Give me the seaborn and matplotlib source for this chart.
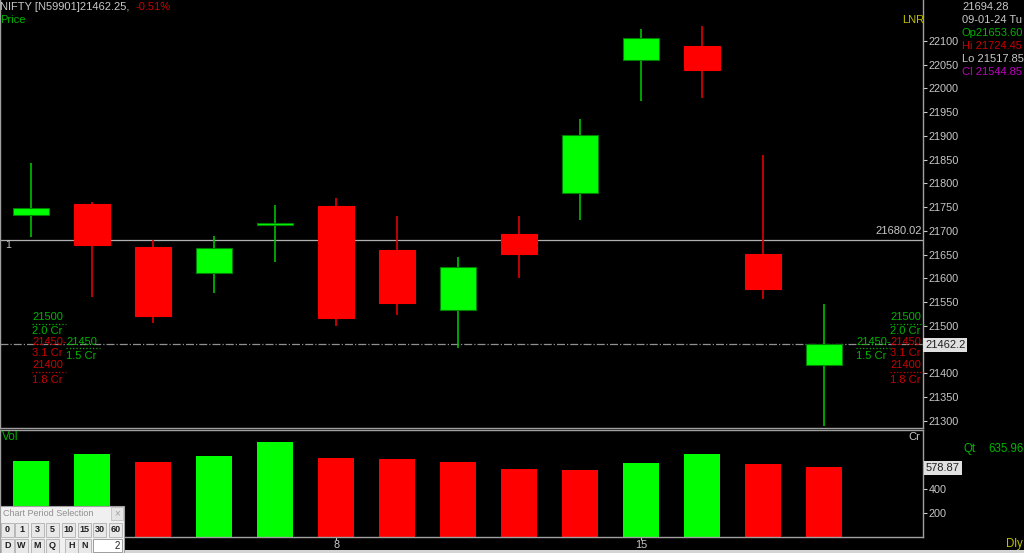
import numpy as np
import pandas as pd
import matplotlib
matplotlib.use("Agg")
import matplotlib.pyplot as plt
import seaborn as sns
from matplotlib.patches import Rectangle
from matplotlib.lines import Line2D

# daily candles (NIFTY, Dec-23 / Jan-24)
opens = [21734, 21757, 21666, 21612, 21713, 21753, 21660, 21534, 21694, 21780, 22060, 22089, 21652, 21418]
closes = [21748, 21670, 21521, 21664, 21717, 21517, 21548, 21624, 21652, 21902, 22106, 22039, 21578, 21462.25]
highs = [21843, 21760, 21681, 21689, 21755, 21769, 21732, 21645, 21732, 21936, 22125, 22132, 21860, 21546]
lows = [21687, 21561, 21506, 21569, 21635, 21500, 21523, 21454, 21601, 21723, 21974, 21980, 21557, 21289]
volumes = [633, 692, 625, 675, 792, 658, 650, 625, 567, 558, 617, 692, 608, 578.87]
vol_dir = ["up", "up", "down", "up", "up", "down", "down", "down", "down", "down", "up", "up", "down", "down"]
date_ticks = [5, 10]
date_labels = ["8", "15"]
price_ticks = list(range(21300, 22101, 50))
vol_ticks = [200, 400]
ref_level = 21680.02
last_price = 21462.25

W, H = 1024, 553
GREEN = "#00ff00"
RED = "#ff0000"
DGREEN = "#00b400"
DRED = "#c80000"
GRAY = "#c8c8c8"

sns.set_style("dark", rc={"axes.facecolor": "black", "figure.facecolor": "black"})
plt.rcParams["font.family"] = ["Liberation Sans", "DejaVu Sans"]

fig = plt.figure(figsize=(W / 100, H / 100), dpi=100)


def fx(x):
    return x / W


def fy(y):
    return 1 - y / H


def ftext(x, y, s, color, size=8, ha="left", **kw):
    fig.text(fx(x), fy(y), s, color=color, fontsize=size, ha=ha, va="center", **kw)


def fline(x0, x1, y, color, ls=":", lw=0.9):
    fig.add_artist(Line2D([fx(x0), fx(x1)], [fy(y), fy(y)], color=color, ls=ls, lw=lw,
                          transform=fig.transFigure))


ax = fig.add_axes([0, fy(428), fx(923), 428 / H])
axv = fig.add_axes([0, fy(537), fx(923), (537 - 430) / H])

df = pd.DataFrame({"i": np.arange(len(opens)), "open": opens, "close": closes,
                   "high": highs, "low": lows, "vol": volumes, "dir": vol_dir})
df["up"] = df["close"] >= df["open"]

# candles
for _, r in df.iterrows():
    col = GREEN if r["up"] else RED
    wick = "#00c000" if r["up"] else "#e00000"
    ax.vlines(r["i"], r["low"], r["high"], color=wick, lw=1.2, zorder=1)
    bottom = min(r["open"], r["close"])
    h = max(abs(r["close"] - r["open"]), 3)
    ax.bar(r["i"], h, bottom=bottom, width=0.6, color=col,
           edgecolor="#008000" if r["up"] else RED, lw=0.8, zorder=2)

ax.set_xlim(-0.51, 14.62)
ax.set_ylim(21285, 22186)
ax.axhline(ref_level, color="#b0b0b0", lw=0.9, zorder=0)
ax.axhline(last_price, color="#909090", lw=0.9, ls="-.", zorder=0)
ax.yaxis.tick_right()
ax.set_yticks(price_ticks)
ax.set_yticklabels([str(t) if t != 21450 else "" for t in price_ticks])
ax.tick_params(axis="y", colors=GRAY, labelsize=7.8, length=3, width=0.8, pad=1, direction="out", right=True)
ax.set_xticks([])
for s in ax.spines.values():
    s.set_color("#a0a0a0")
    s.set_linewidth(1)
ax.spines["top"].set_visible(False)

# volume
sns.barplot(data=df, x="i", y="vol", hue="dir", palette={"up": GREEN, "down": RED},
            width=0.6, dodge=False, legend=False, saturation=1, linewidth=0,
            edgecolor="none", ax=axv, zorder=2)
axv.set_xlim(-0.51, 14.62)
axv.set_ylim(0, 890)
axv.yaxis.tick_right()
axv.set_yticks(vol_ticks)
axv.set_yticklabels([str(t) for t in vol_ticks])
axv.set_xticks(date_ticks)
axv.set_xticklabels(date_labels)
axv.tick_params(axis="y", colors=GRAY, labelsize=7.8, length=3, width=0.8, pad=1, right=True)
axv.tick_params(axis="x", colors=GRAY, labelsize=7.8, length=2, pad=0, bottom=True)
axv.set_xlabel("")
axv.set_ylabel("")
for s in axv.spines.values():
    s.set_color("#a0a0a0")
    s.set_linewidth(1)

# header texts
ftext(0, 7, "NIFTY [N59901]21462.25,", GRAY, 8)
ftext(135, 7, "-0.51%", DRED, 8)
ftext(0, 20, "Price", DGREEN, 8)
ftext(5, 245, "1", GRAY, 7.5)
ftext(922, 231, "21680.02", GRAY, 8, ha="right")
ftext(902, 20, "LNR", "#c0c000", 8)

ftext(962, 7, "21694.28", GRAY, 8)
ftext(962, 20, "09-01-24 Tu", GRAY, 8)
ftext(962, 33, "Op21653.60", DGREEN, 8)
ftext(962, 46, "Hi 21724.45", DRED, 8)
ftext(962, 59, "Lo 21517.85", GRAY, 8)
ftext(962, 72, "Cl 21544.85", "#c000c0", 8)

ftext(2, 437, "Vol", DGREEN, 8.5)
ftext(920, 437, "Cr", GRAY, 8, ha="right")
ftext(963, 449, "Qt", DGREEN, 8.3)
ftext(988, 449, "635.96", DGREEN, 8.3)
ftext(1006, 544, "Dly", "#c0c000", 8.3)

# price / volume boxes on the axis
ftext(925, 345, "21462.2", "#202020", 8,
      bbox=dict(boxstyle="square,pad=0.15", fc="#e0e0e0", ec="none"))
ftext(926, 468, "578.87", "#202020", 8,
      bbox=dict(boxstyle="square,pad=0.15", fc="#e0e0e0", ec="none"))

# option level tags
for x0, grn_x in [(32, 66), (890, 856)]:
    ftext(x0, 317, "21500", DGREEN)
    fline(x0, x0 + 34, 324, DGREEN)
    ftext(x0, 331, "2.0 Cr", DGREEN)
    ftext(x0, 342, "21450" + ("-" if x0 < 100 else ""), DRED)
    ftext(x0, 353, "3.1 Cr", DRED)
    ftext(x0, 365, "21400", DRED)
    fline(x0, x0 + 34, 372, DRED)
    ftext(x0, 380, "1.8 Cr", DRED)
    ftext(grn_x, 342, "21450" + ("-" if grn_x > 500 else ""), DGREEN)
    fline(grn_x, grn_x + 34, 348, DGREEN)
    ftext(grn_x, 356, "1.5 Cr", DGREEN)

# bottom status strip
fig.add_artist(Rectangle((0, 0), 1, 3 / H, transform=fig.transFigure, fc="#d4d4d4", ec="none"))

# chart period selection widget
fig.add_artist(Rectangle((0, 0), fx(124), (553 - 506) / H, transform=fig.transFigure,
                         fc="#f0f0f0", ec="#a0a0a0", lw=0.8))
ftext(3, 514, "Chart Period Selection", "#909090", 6.5)
fig.add_artist(Rectangle((fx(111), fy(520)), fx(12), 13 / H, transform=fig.transFigure,
                         fc="#e4e4e4", ec="#c0c0c0", lw=0.6))
ftext(117, 513, "×", "#a0a0a0", 7, ha="center")
row1 = [("0", 1), ("1", 15), ("3", 31), ("5", 46), ("10", 62), ("15", 78), ("30", 93), ("60", 109)]
for lab, x in row1:
    fig.add_artist(Rectangle((fx(x), fy(537)), fx(13), 14 / H, transform=fig.transFigure,
                             fc="#e8e8e8", ec="#b0b0b0", lw=0.6))
    ftext(x + 6.5, 530, lab, "#202020", 6.5, ha="center", fontweight="bold")
row2 = [("D", 1), ("W", 15), ("M", 31), ("Q", 46), ("H", 65), ("N", 78)]
for lab, x in row2:
    fig.add_artist(Rectangle((fx(x), fy(553)), fx(13), 14 / H, transform=fig.transFigure,
                             fc="#e8e8e8", ec="#b0b0b0", lw=0.6))
    ftext(x + 6.5, 546, lab, "#202020", 6.5, ha="center", fontweight="bold")
fig.add_artist(Rectangle((fx(93), fy(552)), fx(29), 13 / H, transform=fig.transFigure,
                         fc="white", ec="#909090", lw=0.6))
ftext(120, 546, "2", "#202020", 7, ha="right")

fig.savefig("out.png", dpi=100, facecolor="black")
